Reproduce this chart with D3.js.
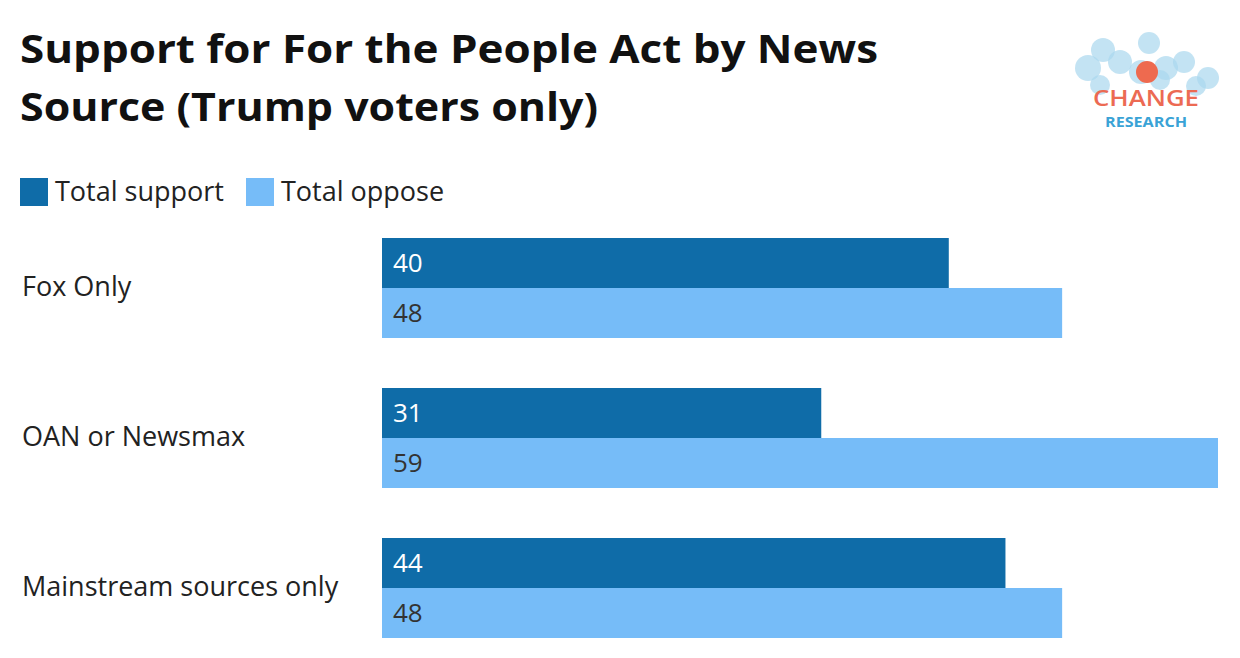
<!DOCTYPE html>
<html><head><meta charset="utf-8">
<script src="https://cdn.jsdelivr.net/npm/d3@7"></script>
<style>body{margin:0;background:#fff}text{font-family:"Open Sans",Lato,sans-serif}</style>
</head><body><svg id="c" width="1240" height="658"></svg>
<script>
const categories=["Fox Only","OAN or Newsmax","Mainstream sources only"];
const seriesNames=["Total support","Total oppose"];
const support=[40,31,44];
const oppose=[48,59,48];
const colors=["#0f6ca8","#76bcf8"];
const labelColors=["#ffffff","#333333"];

const svg=d3.select("#c");
const x=d3.scaleLinear().domain([0,59]).range([382,1218]);
const y0=d3.scaleBand().domain(categories).range([238,688]).paddingInner(0).paddingOuter(0);
const y1=d3.scaleBand().domain(seriesNames).range([0,100]);

svg.append("text").attr("x",20).attr("y",63).attr("font-size",40).attr("font-weight",700).attr("fill","#111")
  .attr("textLength",858).attr("lengthAdjust","spacingAndGlyphs").text("Support for For the People Act by News");
svg.append("text").attr("x",20).attr("y",121).attr("font-size",40).attr("font-weight",700).attr("fill","#111")
  .attr("textLength",578).attr("lengthAdjust","spacingAndGlyphs").text("Source (Trump voters only)");

const leg=[20,246];
seriesNames.forEach((s,i)=>{
  svg.append("rect").attr("x",leg[i]).attr("y",178).attr("width",28).attr("height",28).attr("fill",colors[i]);
  svg.append("text").attr("x",leg[i]+35).attr("y",201).attr("font-size",27).attr("fill","#222").text(s);
});

const data=[support,oppose];
categories.forEach((c,ci)=>{
  const gy=y0(c);
  svg.append("text").attr("x",22).attr("y",gy+58).attr("font-size",27).attr("fill","#222").text(c);
  data.forEach((arr,si)=>{
    const yy=gy+y1(seriesNames[si]);
    svg.append("rect").attr("x",x(0)).attr("y",yy).attr("width",x(arr[ci])-x(0)).attr("height",y1.bandwidth()).attr("fill",colors[si]);
    svg.append("text").attr("x",x(0)+11).attr("y",yy+34).attr("font-size",26).attr("fill",labelColors[si]).text(arr[ci]);
  });
});

// logo
const lg=svg.append("g");
const circ=[[1103,50,12],[1149,43,11],[1088,68,13],[1120,62,12],[1141,72,12],[1166,68,12],[1184,62,11],[1208,78,11],[1100,85,10],[1196,86,10],[1160,80,10]];
circ.forEach(c=>lg.append("circle").attr("cx",c[0]).attr("cy",c[1]).attr("r",c[2]).attr("fill","#a9d7ee").attr("opacity",0.7));
lg.append("circle").attr("cx",1147).attr("cy",72).attr("r",11).attr("fill","#ee6a4f");
lg.append("text").attr("x",1146).attr("y",106).attr("text-anchor","middle").attr("font-size",22).attr("font-weight",600).attr("fill","#ec6a53")
  .attr("textLength",106).attr("lengthAdjust","spacingAndGlyphs").text("CHANGE");
lg.append("text").attr("x",1146).attr("y",127).attr("text-anchor","middle").attr("font-size",14).attr("font-weight",700).attr("fill","#3aa3d6")
  .attr("textLength",82).attr("lengthAdjust","spacingAndGlyphs").text("RESEARCH");
</script></body></html>
